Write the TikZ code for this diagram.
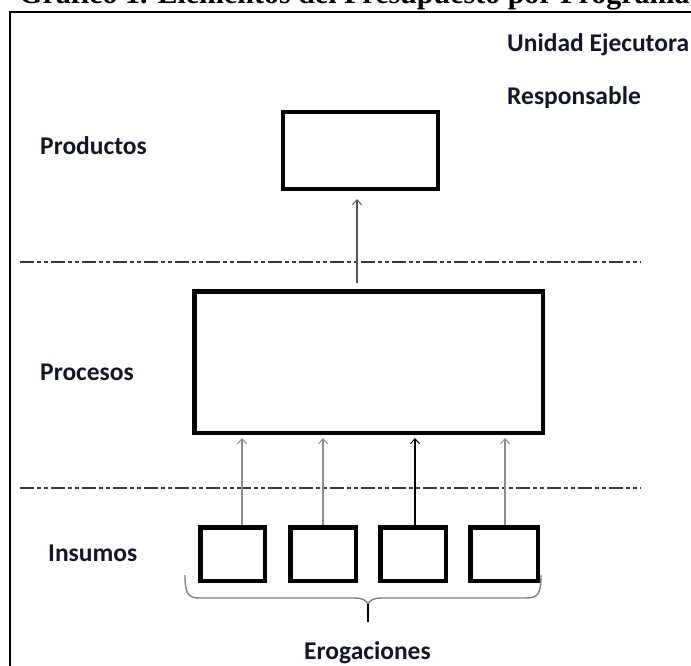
\documentclass[tikz,border=0pt]{standalone}
\usepackage{fontspec}
\setmainfont{Carlito}
\newfontfamily\titlefont{Liberation Serif}
\usetikzlibrary{arrows.meta,calc}
\definecolor{ink}{HTML}{15152A}
\definecolor{lightarrow}{HTML}{8C8C8C}
\definecolor{midarrow}{HTML}{555555}
\definecolor{ruleline}{HTML}{3A3A3A}
\definecolor{bracegray}{HTML}{808080}
\tikzset{
  labeltext/.style={font=\bfseries\fontsize{25.5}{30}\selectfont, text=ink, anchor=base west, inner sep=0pt},
  block/.style={draw=black, line width=#1, fill=white, inner sep=0pt},
  flow/.style={-{Straight Barb[length=5pt,width=9pt,line width=1pt]}, line width=1.2pt},
  divider/.style={draw=ruleline, line width=2pt, dash pattern=on 14pt off 3pt on 4pt off 3pt on 4pt off 3pt},
}
\begin{document}
\begin{tikzpicture}[x=1pt,y=-1pt]
  \useasboundingbox (0,0) rectangle (691,666);
  \clip (0,0) rectangle (691,666);

  % heading (runs off the top edge)
  \node[font=\titlefont\bfseries\fontsize{30}{34}\selectfont, anchor=base west, inner sep=0pt]
    (title) at (19,4) {Gráfico 1. Elementos del Presupuesto por Programa};

  % outer frame
  \draw[line width=2pt] (10,700) -- (10,12) -- (700,12);

  % side labels
  \node[labeltext] (unidad) at (507,52) {Unidad Ejecutora};
  \node[labeltext] (resp) at (507,105) {Responsable};
  \node[labeltext] (lprod) at (40,155) {Productos};
  \node[labeltext] (lproc) at (40,380) {Procesos};
  \node[labeltext] (lins) at (48,561) {Insumos};
  \node[labeltext] (lero) at (304,659) {Erogaciones};

  % level separators
  \draw[divider] (20,262) -- (641,262);
  \draw[divider] (20,488) -- (641,488);

  % boxes
  \node[block=4pt, minimum width=155pt, minimum height=77pt] (prod) at (360.5,150.5) {};
  \node[block=4.5pt, minimum width=348.5pt, minimum height=141.5pt] (proc) at (368.5,362) {};
  \node[block=4.5pt, minimum width=64.5pt, minimum height=53.5pt] (in1) at (232.5,554) {};
  \node[block=4.5pt, minimum width=65.5pt, minimum height=53.5pt] (in2) at (323,554) {};
  \node[block=4.5pt, minimum width=65.5pt, minimum height=53.5pt] (in3) at (413,554) {};
  \node[block=4.5pt, minimum width=67.5pt, minimum height=53.5pt] (in4) at (504,554) {};

  % flows
  \coordinate (a0) at ([xshift=-11.5pt]proc.north);
  \draw[flow, draw=midarrow, shorten <=6pt, shorten >=8pt] (a0) -- (a0 |- prod.south);

  \coordinate (a1) at ([xshift=9.5pt]in1.north);
  \coordinate (a2) at (in2.north);
  \coordinate (a3) at ([xshift=2pt]in3.north);
  \coordinate (a4) at ([xshift=1pt]in4.north);
  \draw[flow, draw=lightarrow, shorten >=3pt] (a1) -- (a1 |- proc.south);
  \draw[flow, draw=lightarrow, shorten >=3pt] (a2) -- (a2 |- proc.south);
  \draw[flow, draw=black, shorten >=3pt] (a3) -- (a3 |- proc.south);
  \draw[flow, draw=lightarrow, shorten >=3pt] (a4) -- (a4 |- proc.south);

  % brace under the inputs
  \coordinate (brL) at (185,575);
  \coordinate (brR) at (541,575);
  \coordinate (brM) at (368,622);
  \draw[bracegray, line width=1.4pt]
    (brL) .. controls (185,594) and (188,598) .. (200,598) -- (354,598)
    .. controls (362,598) and (368,600) .. (368,606);
  \draw[bracegray, line width=1.4pt]
    (brR) .. controls (541,594) and (538,598) .. (526,598) -- (382,598)
    .. controls (374,598) and (368,600) .. (368,606);
  \draw[black, line width=1.8pt] (368,604) -- (brM);
\end{tikzpicture}
\end{document}
